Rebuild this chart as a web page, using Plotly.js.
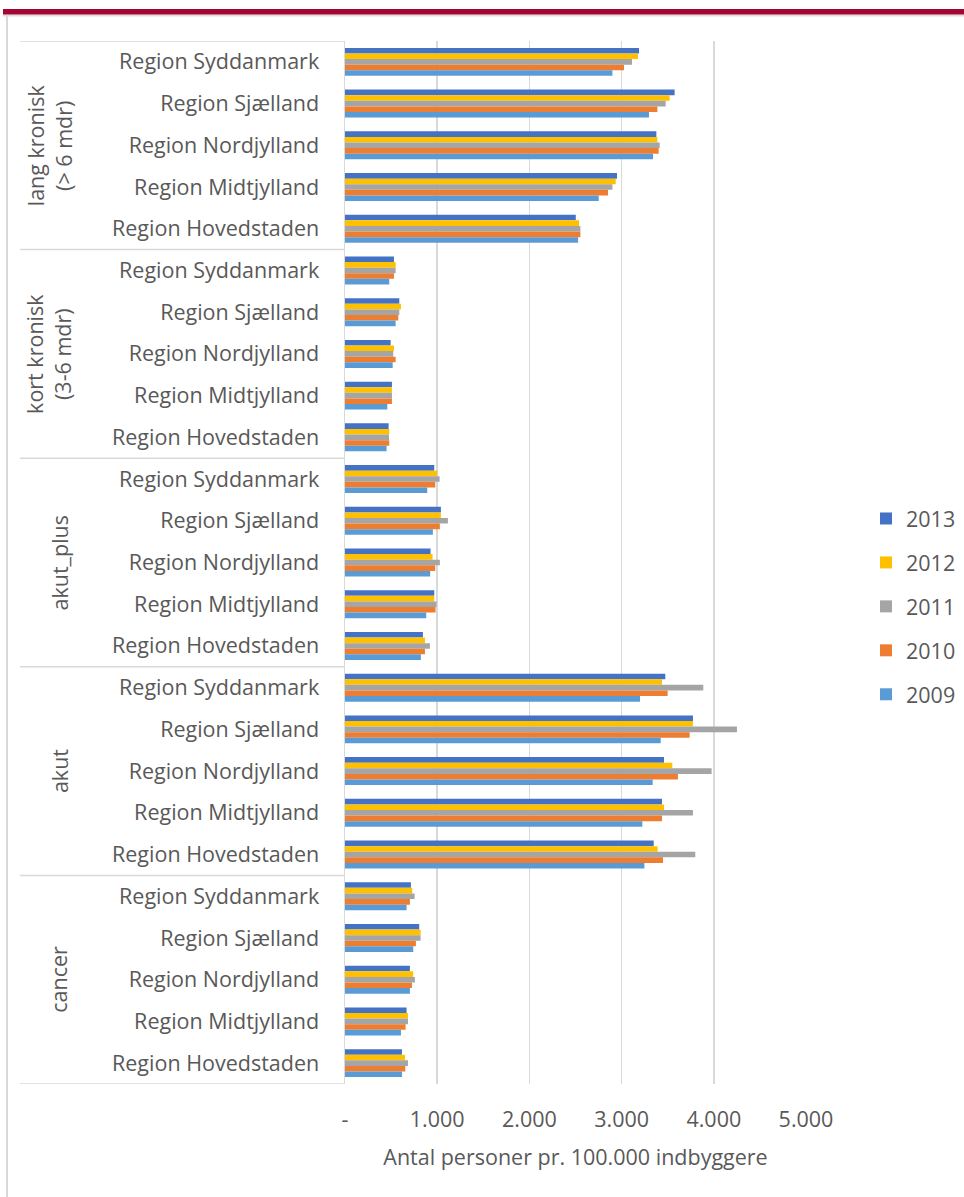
<!DOCTYPE html>
<html>
<head>
<meta charset="utf-8">
<script src="https://cdn.plot.ly/plotly-3.0.1.min.js"></script>
<style>
  html, body { margin: 0; padding: 0; background: #ffffff; }
  #chart { width: 964px; height: 1197px; }
</style>
</head>
<body>
<div id="chart"></div>
<script>
// ---- data (top to bottom as drawn) ----
const groups = ['lang kronisk<br>(> 6 mdr)', 'kort kronisk<br>(3-6 mdr)', 'akut_plus', 'akut', 'cancer'];
const regions = ['Region Syddanmark', 'Region Sjælland', 'Region Nordjylland', 'Region Midtjylland', 'Region Hovedstaden'];
const years = ['2013', '2012', '2011', '2010', '2009'];

const v2013 = [3189, 3575, 3377, 2950, 2503,  531, 589, 495, 509, 473,  968, 1040, 928, 968, 845,  3474, 3774, 3460, 3438, 3348,  715, 805, 704, 668, 618];
const v2012 = [3178, 3521, 3388, 2936, 2539,  549, 607, 531, 509, 480,  1000, 1040, 950, 968, 867,  3438, 3774, 3550, 3460, 3391,  729, 820, 740, 683, 650];
const v2011 = [3113, 3478, 3413, 2900, 2553,  549, 589, 523, 509, 477,  1026, 1116, 1029, 993, 921,  3886, 4251, 3976, 3774, 3799,  755, 820, 758, 683, 683];
const v2010 = [3026, 3388, 3402, 2853, 2553,  531, 578, 549, 509, 480,  979, 1029, 979, 982, 867,  3499, 3738, 3611, 3438, 3449,  704, 769, 726, 657, 654];
const v2009 = [2900, 3297, 3341, 2752, 2528,  480, 549, 517, 459, 451,  892, 953, 924, 881, 823,  3200, 3424, 3337, 3225, 3247,  668, 740, 704, 607, 618];

const xTickVals = [0, 1000, 2000, 3000, 4000, 5000];
const xTickText = ['-', '1.000', '2.000', '3.000', '4.000', '5.000'];
const xTitle = 'Antal personer pr. 100.000 indbyggere';

// ---- styling ----
const colors = ['#4472C4', '#FFC000', '#A5A5A5', '#ED7D31', '#5B9BD5'];
const series = [v2013, v2012, v2011, v2010, v2009];
const FONT = 'Open Sans, Liberation Sans, sans-serif';
const FS = 21.5;
const TXT = '#595959';
const GRID = '#D9D9D9';

const W = 964, H = 1197;
const M = { l: 345, r: 158, t: 41, b: 113, autoexpand: false };
const PW = W - M.l - M.r, PH = H - M.t - M.b;
const px2x = px => (px - M.l) / PW;
const px2y = py => (H - M.b - py) / PH;

// category positions
const yPos = [];
const yLab = [];
groups.forEach((g, gi) => regions.forEach((r, ri) => { yPos.push(gi * regions.length + ri); yLab.push(r); }));

const traces = years.map((yr, i) => ({
  type: 'bar',
  orientation: 'h',
  name: yr,
  x: series[i],
  y: yPos,
  marker: { color: colors[i] },
  legendgroup: yr,
  hoverinfo: 'x+name'
}));

// group labels & separators
const annotations = groups.map((g, gi) => ({
  text: g,
  xref: 'paper', yref: 'y',
  x: px2x(g.includes('<br>') ? 49 : 59),
  y: gi * regions.length + (regions.length - 1) / 2,
  textangle: -90,
  showarrow: false,
  font: { family: FONT, size: FS, color: TXT },
  xanchor: 'center', yanchor: 'middle'
}));

const shapes = [];
for (let gi = 0; gi <= groups.length; gi++) {
  const yb = gi * regions.length - 0.5;
  shapes.push({ type: 'line', xref: 'paper', yref: 'y', x0: px2x(20), x1: 0, y0: yb, y1: yb,
    line: { color: GRID, width: 1.5 } });
}
// outer chart border (left) and red header bar
shapes.push({ type: 'line', xref: 'paper', yref: 'paper', x0: px2x(7), x1: px2x(7), y0: px2y(16), y1: px2y(1200),
  line: { color: '#D9D9D9', width: 2 } });
shapes.push({ type: 'line', xref: 'paper', yref: 'paper', x0: px2x(3), x1: px2x(970), y0: px2y(15.5), y1: px2y(15.5),
  line: { color: '#DDDDDD', width: 2 } });
shapes.push({ type: 'rect', xref: 'paper', yref: 'paper', x0: px2x(3), x1: px2x(970), y0: px2y(9), y1: px2y(14.5),
  fillcolor: '#A50533', line: { width: 0 } });

const layout = {
  width: W, height: H,
  margin: M,
  paper_bgcolor: '#ffffff',
  plot_bgcolor: '#ffffff',
  barmode: 'group',
  bargap: 0.33,
  bargroupgap: 0,
  font: { family: FONT, size: FS, color: TXT },
  xaxis: {
    range: [0, 5000],
    tickvals: xTickVals,
    ticktext: xTickText,
    showgrid: true,
    gridcolor: GRID,
    gridwidth: 1.5,
    zeroline: false,
    showline: false,
    ticks: '',
    ticklabelstandoff: 20,
    tickfont: { family: FONT, size: FS, color: TXT },
    title: { text: xTitle, font: { family: FONT, size: FS, color: TXT }, standoff: 18 },
    fixedrange: true
  },
  yaxis: {
    range: [yPos.length - 0.5, -0.5],
    tickvals: yPos,
    ticktext: yLab,
    showgrid: false,
    zeroline: false,
    showline: true,
    linecolor: GRID,
    linewidth: 1.5,
    ticks: '',
    ticklabelstandoff: 20,
    tickfont: { family: FONT, size: FS, color: TXT },
    fixedrange: true
  },
  legend: {
    x: px2x(866), y: px2y(498),
    xanchor: 'left', yanchor: 'top',
    traceorder: 'grouped',
    tracegroupgap: 13,
    font: { family: FONT, size: FS, color: TXT },
    bgcolor: 'rgba(0,0,0,0)'
  },
  annotations: annotations,
  shapes: shapes,
  showlegend: true
};

Plotly.newPlot('chart', traces, layout, { displayModeBar: false, staticPlot: true });
</script>
</body>
</html>
